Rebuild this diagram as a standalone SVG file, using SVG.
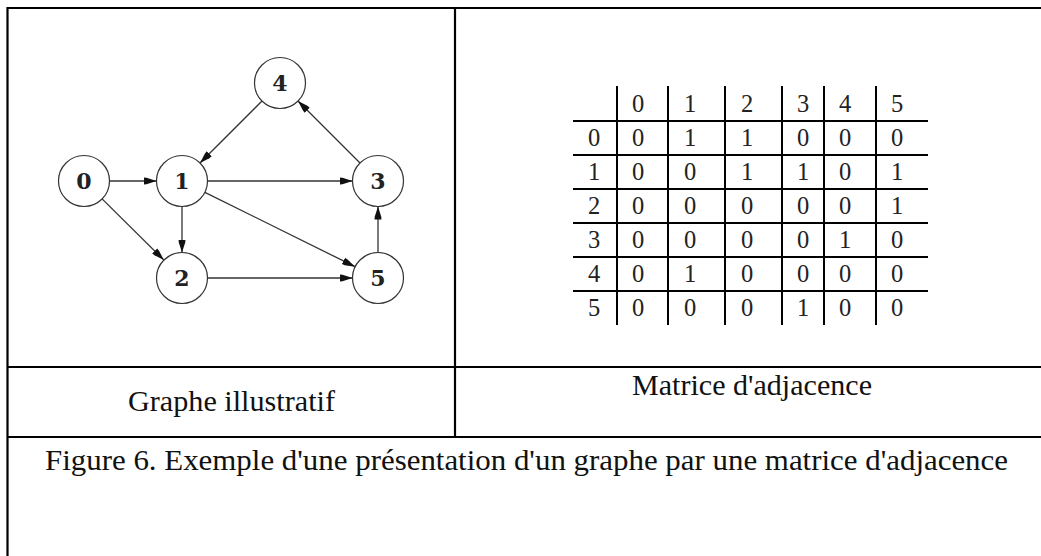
<svg xmlns="http://www.w3.org/2000/svg" width="1041" height="556" viewBox="0 0 1041 556">
<style>
.frame{stroke:#000;stroke-width:2.2;fill:none}
.grid{stroke:#000;stroke-width:2;fill:none}
.node circle{fill:#fff;stroke:#333;stroke-width:1.2}
.node text{font-family:"DejaVu Serif","Liberation Serif",serif;font-weight:bold;font-size:22px;text-anchor:middle;fill:#222}
.edge{stroke:#333;stroke-width:1.3;fill:none;marker-end:url(#arr)}
.cell{font-family:"Liberation Serif","Times New Roman",serif;font-size:24.5px;text-anchor:middle;fill:#222}
.cap{font-family:"Liberation Serif","Times New Roman",serif;font-size:30px;fill:#111}
</style>
<defs>
<marker id="arr" markerUnits="userSpaceOnUse" markerWidth="13" markerHeight="9" refX="13" refY="4.5" orient="auto">
<path d="M0,1 L3,1.3 L13,4.5 L3,7.7 L0,8 z" fill="#111"/>
</marker>
</defs>
<rect width="1041" height="556" fill="#fff"/>
<g id="table">
<line class="frame" x1="7" y1="8" x2="1041" y2="8"/>
<line class="frame" x1="7.5" y1="7" x2="7.5" y2="556"/>
<line class="frame" x1="455" y1="8" x2="455" y2="437"/>
<line class="frame" x1="7" y1="367" x2="1041" y2="367"/>
<line class="frame" x1="7" y1="437" x2="1041" y2="437"/>
</g>
<g id="connectors">
<line class="edge" x1="109.5" y1="181" x2="156.5" y2="181"/>
<line class="edge" x1="102.1" y1="198.9" x2="163.9" y2="260.1"/>
<line class="edge" x1="182" y1="206.5" x2="182" y2="252.5"/>
<line class="edge" x1="207.5" y1="181" x2="352.5" y2="181"/>
<line class="edge" x1="204.9" y1="192.3" x2="355.1" y2="266.7"/>
<line class="edge" x1="207.5" y1="278" x2="352.5" y2="278"/>
<line class="edge" x1="378" y1="252.5" x2="378" y2="206.5"/>
<line class="edge" x1="360" y1="163" x2="298" y2="101"/>
<line class="edge" x1="262" y1="101" x2="200" y2="163"/>
</g>
<g id="node0" class="node"><circle cx="84" cy="181" r="25.5"/><text x="84" y="189">0</text></g>
<g id="node1" class="node"><circle cx="182" cy="181" r="25.5"/><text x="182" y="189">1</text></g>
<g id="node2" class="node"><circle cx="182" cy="278" r="25.5"/><text x="182" y="286">2</text></g>
<g id="node3" class="node"><circle cx="378" cy="181" r="25.5"/><text x="378" y="189">3</text></g>
<g id="node4" class="node"><circle cx="280" cy="83" r="25.5"/><text x="280" y="91">4</text></g>
<g id="node5" class="node"><circle cx="378" cy="278" r="25.5"/><text x="378" y="286">5</text></g>
<g id="matrix">
<g class="grid">
<line x1="573" y1="121" x2="928" y2="121"/>
<line x1="573" y1="155" x2="928" y2="155"/>
<line x1="573" y1="189" x2="928" y2="189"/>
<line x1="573" y1="223" x2="928" y2="223"/>
<line x1="573" y1="257" x2="928" y2="257"/>
<line x1="573" y1="291" x2="928" y2="291"/>
<line x1="617" y1="86" x2="617" y2="325"/>
<line x1="668" y1="86" x2="668" y2="325"/>
<line x1="725" y1="86" x2="725" y2="325"/>
<line x1="782" y1="86" x2="782" y2="325"/>
<line x1="824" y1="86" x2="824" y2="325"/>
<line x1="876" y1="86" x2="876" y2="325"/>
</g>
<g class="cell">
<text x="638" y="112">0</text><text x="690" y="112">1</text><text x="747" y="112">2</text><text x="803" y="112">3</text><text x="845" y="112">4</text><text x="897" y="112">5</text>
<text x="594" y="146">0</text><text x="638" y="146">0</text><text x="690" y="146">1</text><text x="747" y="146">1</text><text x="803" y="146">0</text><text x="845" y="146">0</text><text x="897" y="146">0</text>
<text x="594" y="180">1</text><text x="638" y="180">0</text><text x="690" y="180">0</text><text x="747" y="180">1</text><text x="803" y="180">1</text><text x="845" y="180">0</text><text x="897" y="180">1</text>
<text x="594" y="214">2</text><text x="638" y="214">0</text><text x="690" y="214">0</text><text x="747" y="214">0</text><text x="803" y="214">0</text><text x="845" y="214">0</text><text x="897" y="214">1</text>
<text x="594" y="248">3</text><text x="638" y="248">0</text><text x="690" y="248">0</text><text x="747" y="248">0</text><text x="803" y="248">0</text><text x="845" y="248">1</text><text x="897" y="248">0</text>
<text x="594" y="282">4</text><text x="638" y="282">0</text><text x="690" y="282">1</text><text x="747" y="282">0</text><text x="803" y="282">0</text><text x="845" y="282">0</text><text x="897" y="282">0</text>
<text x="594" y="316">5</text><text x="638" y="316">0</text><text x="690" y="316">0</text><text x="747" y="316">0</text><text x="803" y="316">1</text><text x="845" y="316">0</text><text x="897" y="316">0</text>
</g>
</g>
<g id="captions">
<text class="cap" x="128" y="411" textLength="207" lengthAdjust="spacingAndGlyphs">Graphe illustratif</text>
<text class="cap" x="632" y="395" textLength="240" lengthAdjust="spacingAndGlyphs">Matrice d'adjacence</text>
<text class="cap" x="45" y="470" textLength="963" lengthAdjust="spacingAndGlyphs">Figure 6. Exemple d'une présentation d'un graphe par une matrice d'adjacence</text>
</g>
</svg>
